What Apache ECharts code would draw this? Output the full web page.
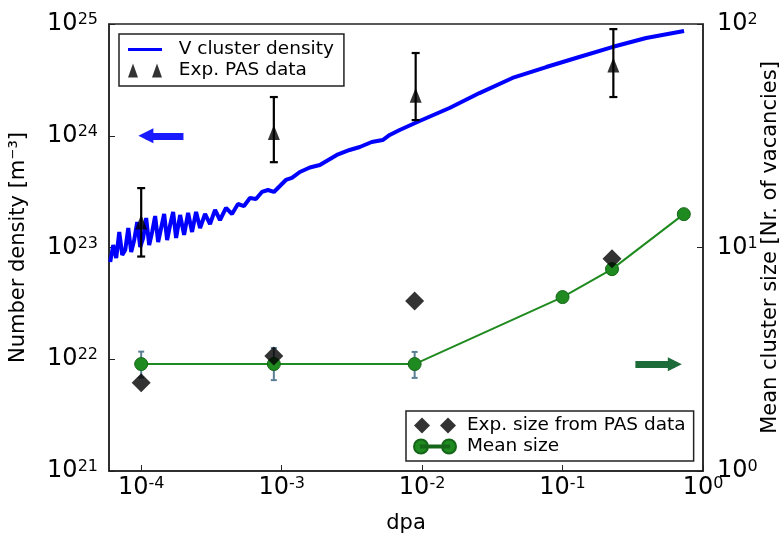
<!DOCTYPE html>
<html>
<head>
<meta charset="utf-8">
<script src="https://cdn.jsdelivr.net/npm/echarts@6/dist/echarts.min.js"></script>
<style>
  html, body { margin: 0; padding: 0; background: #fff; }
  #chart { width: 781px; height: 536px; }
</style>
</head>
<body>
<div id="chart"></div>
<script>
// simulated V cluster density (left axis)
const densityDpa = [
  6.02e-5, 6.32e-5, 6.64e-5, 6.98e-5, 7.33e-5, 7.70e-5, 8.09e-5, 8.49e-5, 8.92e-5, 9.37e-5,
  9.84e-5, 1.033e-4, 1.085e-4, 1.140e-4, 1.197e-4, 1.257e-4, 1.321e-4, 1.387e-4, 1.457e-4, 1.530e-4,
  1.607e-4, 1.688e-4, 1.773e-4, 1.893e-4, 2.021e-4, 2.158e-4, 2.303e-4, 2.459e-4, 2.626e-4, 2.849e-4,
  3.092e-4, 3.356e-4, 3.641e-4, 4.017e-4, 4.431e-4, 4.889e-4, 5.394e-4, 5.949e-4, 6.564e-4, 7.239e-4,
  7.987e-4, 8.810e-4, 9.72e-4, 1.072e-3, 1.183e-3, 1.348e-3, 1.588e-3, 1.870e-3, 2.47e-3, 3.05e-3,
  3.60e-3, 4.38e-3, 5.24e-3, 5.88e-3, 6.92e-3, 9.60e-3, 1.568e-2, 2.562e-2, 4.40e-2, 7.66e-2,
  0.1315, 0.2257, 0.3936, 0.733
];
const densityValues = [
  7.42e22, 1.053e23, 8.06e22, 1.377e23, 8.57e22, 9.51e22, 1.494e23, 9.13e22, 1.167e23, 1.690e23,
  1.010e23, 1.216e23, 1.836e23, 1.053e23, 1.377e23, 1.914e23, 1.119e23, 1.494e23, 1.995e23, 1.167e23,
  1.588e23, 2.080e23, 1.216e23, 1.954e23, 1.295e23, 2.037e23, 1.377e23, 2.080e23, 1.494e23, 1.995e23,
  1.622e23, 2.168e23, 1.762e23, 2.259e23, 1.995e23, 2.45e23, 2.35e23, 2.77e23, 2.72e23, 3.14e23,
  3.27e23, 3.14e23, 3.55e23, 4.02e23, 4.19e23, 4.74e23, 5.20e23, 5.47e23, 6.73e23, 7.46e23,
  7.93e23, 8.79e23, 9.16e23, 1.016e24, 1.125e24, 1.355e24, 1.772e24, 2.41e24, 3.29e24, 4.12e24,
  5.07e24, 6.22e24, 7.50e24, 8.66e24
];

// experimental PAS density (left axis) with error bars
const pasDpa = [1.0e-4, 8.8e-4, 9.0e-3, 0.23];
const pasDensity = [1.69e23, 1.07e24, 2.3e24, 4.3e24];
const pasLow = [8.3e22, 5.8e23, 1.38e24, 2.22e24];
const pasHigh = [3.4e23, 2.22e24, 5.5e24, 9.0e24];

// cluster size (right axis)
const expSizeDpa = [1.0e-4, 8.8e-4, 8.85e-3, 0.225];
const expSize = [2.48, 3.27, 5.77, 8.9];
const meanDpa = [1.0e-4, 8.8e-4, 8.85e-3, 0.1, 0.225, 0.73];
const meanSize = [3.01, 3.01, 3.01, 6.0, 8.0, 14.1];
const meanLow = [2.62, 2.55, 2.61];
const meanHigh = [3.42, 3.55, 3.41];

const FONT = 'DejaVu Sans';

function pair(xs, ys) {
  return xs.map((x, i) => [x, ys[i]]);
}

// 10^n labels with a raised exponent
function powLabel(v) {
  const e = Math.round(Math.log10(v));
  return '{base|10}{sup|' + e + '}';
}

const powRich = {
  base: { fontSize: 24, fontFamily: FONT, color: '#000', lineHeight: 24, padding: [8, 0, 0, 0], verticalAlign: 'bottom' },
  sup: { fontSize: 16, fontFamily: FONT, color: '#000', lineHeight: 16, verticalAlign: 'top' }
};

function errBars(name, xs, lo, hi, yIdx, color, cap, width) {
  return {
    type: 'custom',
    name: name,
    yAxisIndex: yIdx,
    z: 4,
    silent: true,
    data: xs.map((x, i) => [x, lo[i], hi[i]]),
    encode: { x: 0, y: [1, 2] },
    renderItem(params, api) {
      const x = api.value(0);
      const p1 = api.coord([x, api.value(1)]);
      const p2 = api.coord([x, api.value(2)]);
      const style = { stroke: color, lineWidth: width };
      return {
        type: 'group',
        children: [
          { type: 'line', shape: { x1: p1[0], y1: p1[1], x2: p2[0], y2: p2[1] }, style },
          { type: 'line', shape: { x1: p1[0] - cap, y1: p1[1], x2: p1[0] + cap, y2: p1[1] }, style },
          { type: 'line', shape: { x1: p2[0] - cap, y1: p2[1], x2: p2[0] + cap, y2: p2[1] }, style }
        ]
      };
    }
  };
}

const lineIcon = 'path://M0,0 L34,0 L34,3 L0,3 Z';
const triIcon = 'path://M0,14 L5,0 L10,14 Z M24,14 L29,0 L34,14 Z';
const diaIcon = 'path://M0,8 L8,0 L16,8 L8,16 Z M26,8 L34,0 L42,8 L34,16 Z';
const meanIcon = 'path://M0,7 A7,7 0 1,0 14,7 A7,7 0 1,0 0,7 Z M28,7 A7,7 0 1,0 42,7 A7,7 0 1,0 28,7 Z M7,6 L35,6 L35,8 L7,8 Z';

const axisLine = { show: true, lineStyle: { color: '#222', width: 1.5 } };
const axisTick = { show: true, inside: true, length: 6, lineStyle: { color: '#222', width: 1 } };

const chart = echarts.init(document.getElementById('chart'));

chart.setOption({
  animation: false,
  backgroundColor: '#fff',
  grid: {
    left: 109, right: 78, top: 24, bottom: 65,
    outerBoundsMode: 'none',
    containLabel: false,
    show: true, borderColor: '#222', borderWidth: 1.5
  },
  legend: [
    {
      left: 119, top: 34,
      orient: 'vertical',
      selectedMode: false,
      data: [{ name: 'V cluster density', icon: lineIcon }, { name: 'Exp. PAS data', icon: triIcon }],
      itemWidth: 34, itemHeight: 14, itemGap: 2,
      padding: [6, 10, 6, 9],
      borderColor: '#222', borderWidth: 1.5, borderRadius: 0,
      backgroundColor: '#fff',
      textStyle: { fontSize: 18.5, fontFamily: FONT, color: '#000' },
      formatter: n => '  ' + n
    },
    {
      left: 406, top: 411,
      orient: 'vertical',
      selectedMode: false,
      data: [{ name: 'Exp. size from PAS data', icon: diaIcon }, { name: 'Mean size', icon: meanIcon }],
      itemWidth: 42, itemHeight: 16, itemGap: 2,
      padding: [5, 8, 5, 7],
      borderColor: '#222', borderWidth: 1.5, borderRadius: 0,
      backgroundColor: '#fff',
      textStyle: { fontSize: 18.5, fontFamily: FONT, color: '#000' },
      formatter: n => ' ' + n
    }
  ],
  xAxis: {
    type: 'log',
    logBase: 10,
    min: 5.9e-5,
    max: 1,
    name: 'dpa',
    nameLocation: 'middle',
    nameGap: 42,
    nameMoveOverlap: false,
    nameTextStyle: { fontSize: 21, fontFamily: FONT, color: '#000' },
    axisLine, axisTick,
    splitLine: { show: false },
    axisLabel: { showMinLabel: false, margin: 5, formatter: powLabel, rich: powRich }
  },
  yAxis: [
    {
      type: 'log',
      logBase: 10,
      min: 1e21,
      max: 1e25,
      name: 'Number density [m\u207B\u00B3]',
      nameLocation: 'middle',
      nameRotate: 90,
      nameGap: 80,
      nameMoveOverlap: false,
      nameTextStyle: { fontSize: 21, fontFamily: FONT, color: '#000' },
      axisLine, axisTick,
      splitLine: { show: false },
      axisLabel: { margin: 11, formatter: powLabel, rich: powRich }
    },
    {
      type: 'log',
      logBase: 10,
      min: 1,
      max: 100,
      position: 'right',
      name: 'Mean cluster size [Nr. of vacancies]',
      nameLocation: 'middle',
      nameRotate: 90,
      nameGap: 57,
      nameMoveOverlap: false,
      nameTextStyle: { fontSize: 21, fontFamily: FONT, color: '#000' },
      axisLine, axisTick,
      splitLine: { show: false },
      axisLabel: { margin: 14, formatter: powLabel, rich: powRich }
    }
  ],
  series: [
    {
      name: 'V cluster density',
      type: 'line',
      yAxisIndex: 0,
      data: pair(densityDpa, densityValues),
      symbol: 'none',
      color: '#0000ff',
      lineStyle: { color: '#0000ff', width: 4 },
      z: 2,
      markLine: {
        silent: true,
        symbol: ['none', 'triangle'],
        symbolSize: 15,
        label: { show: false },
        lineStyle: { color: '#1a1aff', width: 7, type: 'solid' },
        data: [[{ coord: [2.0e-4, 1e24] }, { coord: [1.08e-4, 1e24] }]]
      }
    },
    errBars('pasErr', pasDpa, pasLow, pasHigh, 0, '#000', 4, 2.2),
    {
      name: 'Exp. PAS data',
      type: 'scatter',
      yAxisIndex: 0,
      data: pair(pasDpa, pasDensity),
      symbol: 'triangle',
      symbolSize: [12, 15],
      color: '#000',
      itemStyle: { color: '#000' },
      z: 5
    },
    errBars('meanErr', meanDpa.slice(0, 3), meanLow, meanHigh, 1, '#5b7f95', 3, 2),
    {
      name: 'Mean size',
      type: 'line',
      yAxisIndex: 1,
      data: pair(meanDpa, meanSize),
      symbol: 'circle',
      symbolSize: 13,
      color: '#1f8a1f',
      itemStyle: { color: '#1f8a1f', borderColor: '#16661a', borderWidth: 1 },
      lineStyle: { color: '#1f8a1f', width: 2 },
      z: 5,
      markLine: {
        silent: true,
        symbol: ['none', 'triangle'],
        symbolSize: 14,
        label: { show: false },
        lineStyle: { color: '#1e6b3a', width: 7, type: 'solid' },
        data: [[{ coord: [0.33, 3.0] }, { coord: [0.63, 3.0] }]]
      }
    },
    {
      name: 'Exp. size from PAS data',
      type: 'scatter',
      yAxisIndex: 1,
      data: pair(expSizeDpa, expSize),
      symbol: 'diamond',
      symbolSize: [19, 19],
      color: '#000',
      itemStyle: { color: '#000' },
      z: 6
    }
  ]
});
</script>
</body>
</html>
